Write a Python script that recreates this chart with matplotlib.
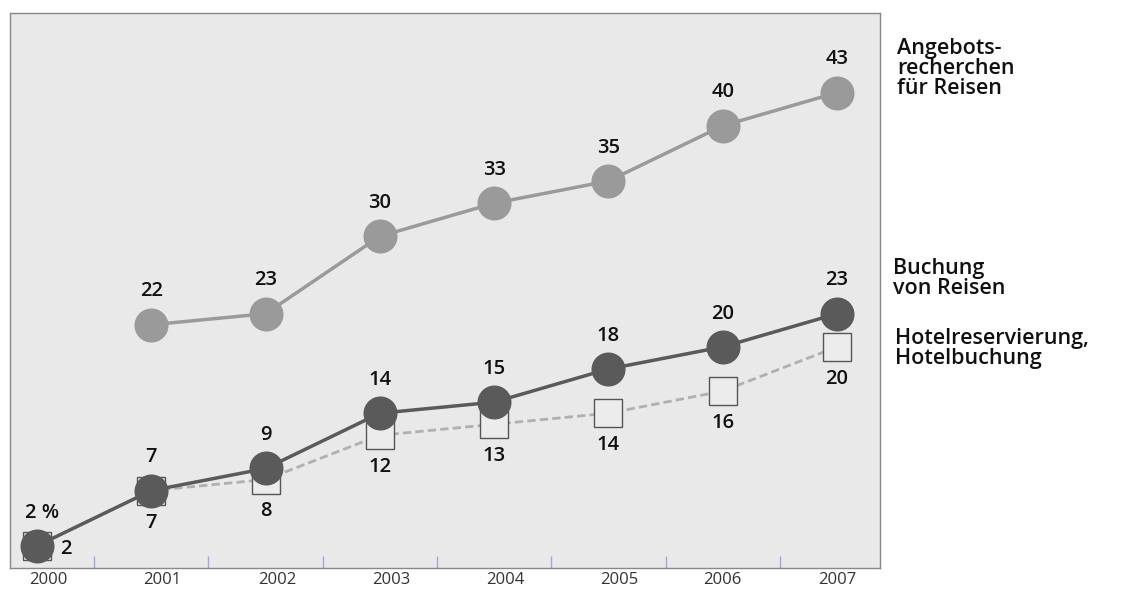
import numpy as np
import matplotlib
matplotlib.use('Agg')
import matplotlib.pyplot as plt
import matplotlib.transforms as mtransforms

years = [2000, 2001, 2002, 2003, 2004, 2005, 2006, 2007]
angebot_years = [2001, 2002, 2003, 2004, 2005, 2006, 2007]
angebot = [22, 23, 30, 33, 35, 40, 43]
buchung = [2, 7, 9, 14, 15, 18, 20, 23]
hotel = [2, 7, 8, 12, 13, 14, 16, 20]

plt.rcParams['font.family'] = ['Open Sans', 'DejaVu Sans']

fig = plt.figure(figsize=(11.32, 5.92), dpi=100)
ax = fig.add_axes([10 / 1132, 24 / 592, 870 / 1132, 555 / 592])
ax.set_facecolor('#e9e9e9')
ax.set_xlim(1999.764, 2007.376)
ax.set_ylim(0, 50.2)

# lines
ax.plot(angebot_years, angebot, color='#9a9a9a', lw=2.5, marker='o', ms=23.5,
        mfc='#9a9a9a', mec='#9a9a9a', zorder=3)
ax.plot(years, hotel, color='#b0b0b0', lw=2, ls=(0, (3, 1.5)), marker='s', ms=19.5,
        mfc='#ececec', mec='#555555', mew=1, zorder=4)
ax.plot(years, buchung, color='#5a5a5a', lw=2.5, marker='o', ms=23.5,
        mfc='#5a5a5a', mec='#5a5a5a', zorder=5)

fs = 14.5
num_kw = dict(textcoords='offset points', ha='center', va='center', fontsize=fs,
              color='#111111', fontweight='semibold')
for x, v in zip(angebot_years, angebot):
    ax.annotate(str(v), (x, v), xytext=(0, 24), **num_kw)
for i, (x, v) in enumerate(zip(years, buchung)):
    if i == 0:
        ax.annotate('2 %', (x, v), xytext=(4, 24), **num_kw)
    else:
        ax.annotate(str(v), (x, v), xytext=(0, 24), **num_kw)
for i, (x, v) in enumerate(zip(years, hotel)):
    if i == 0:
        ax.annotate(str(v), (x, v), xytext=(21, -2), **num_kw)
    else:
        ax.annotate(str(v), (x, v), xytext=(0, -23), **num_kw)

# axes styling
for s in ax.spines.values():
    s.set_color('#888888')
    s.set_linestyle((0, (1, 1)))
    s.set_linewidth(1)
ax.set_xticks(years)
ax.set_xticklabels([str(y) for y in years], fontsize=12, color='#333333')
ax.tick_params(axis='x', length=0, pad=3)
label_shift = [11, 11, 12, 11, 11, 11, 0, 0]
for lab, dx in zip(ax.get_xticklabels(), label_shift):
    lab.set_transform(lab.get_transform() +
                      mtransforms.ScaledTranslation(dx / 100, 0, fig.dpi_scale_trans))
ax.set_yticks([])
ax.set_xticks([y + 0.5 for y in years[:-1]], minor=True)
ax.tick_params(axis='x', which='minor', direction='in', length=9, color='#9aa8e0', width=1)

# series labels at right
lab_kw = dict(fontsize=15.5, color='#111111', ha='left', va='top', linespacing=0.95,
              fontweight='semibold')
fig.text(897 / 1132, 1 - 38 / 592, 'Angebots-\nrecherchen\nfür Reisen', **lab_kw)
fig.text(893 / 1132, 1 - 258 / 592, 'Buchung\nvon Reisen', **lab_kw)
fig.text(895 / 1132, 1 - 328 / 592, 'Hotelreservierung,\nHotelbuchung', **lab_kw)

fig.savefig('out.png', dpi=100)
